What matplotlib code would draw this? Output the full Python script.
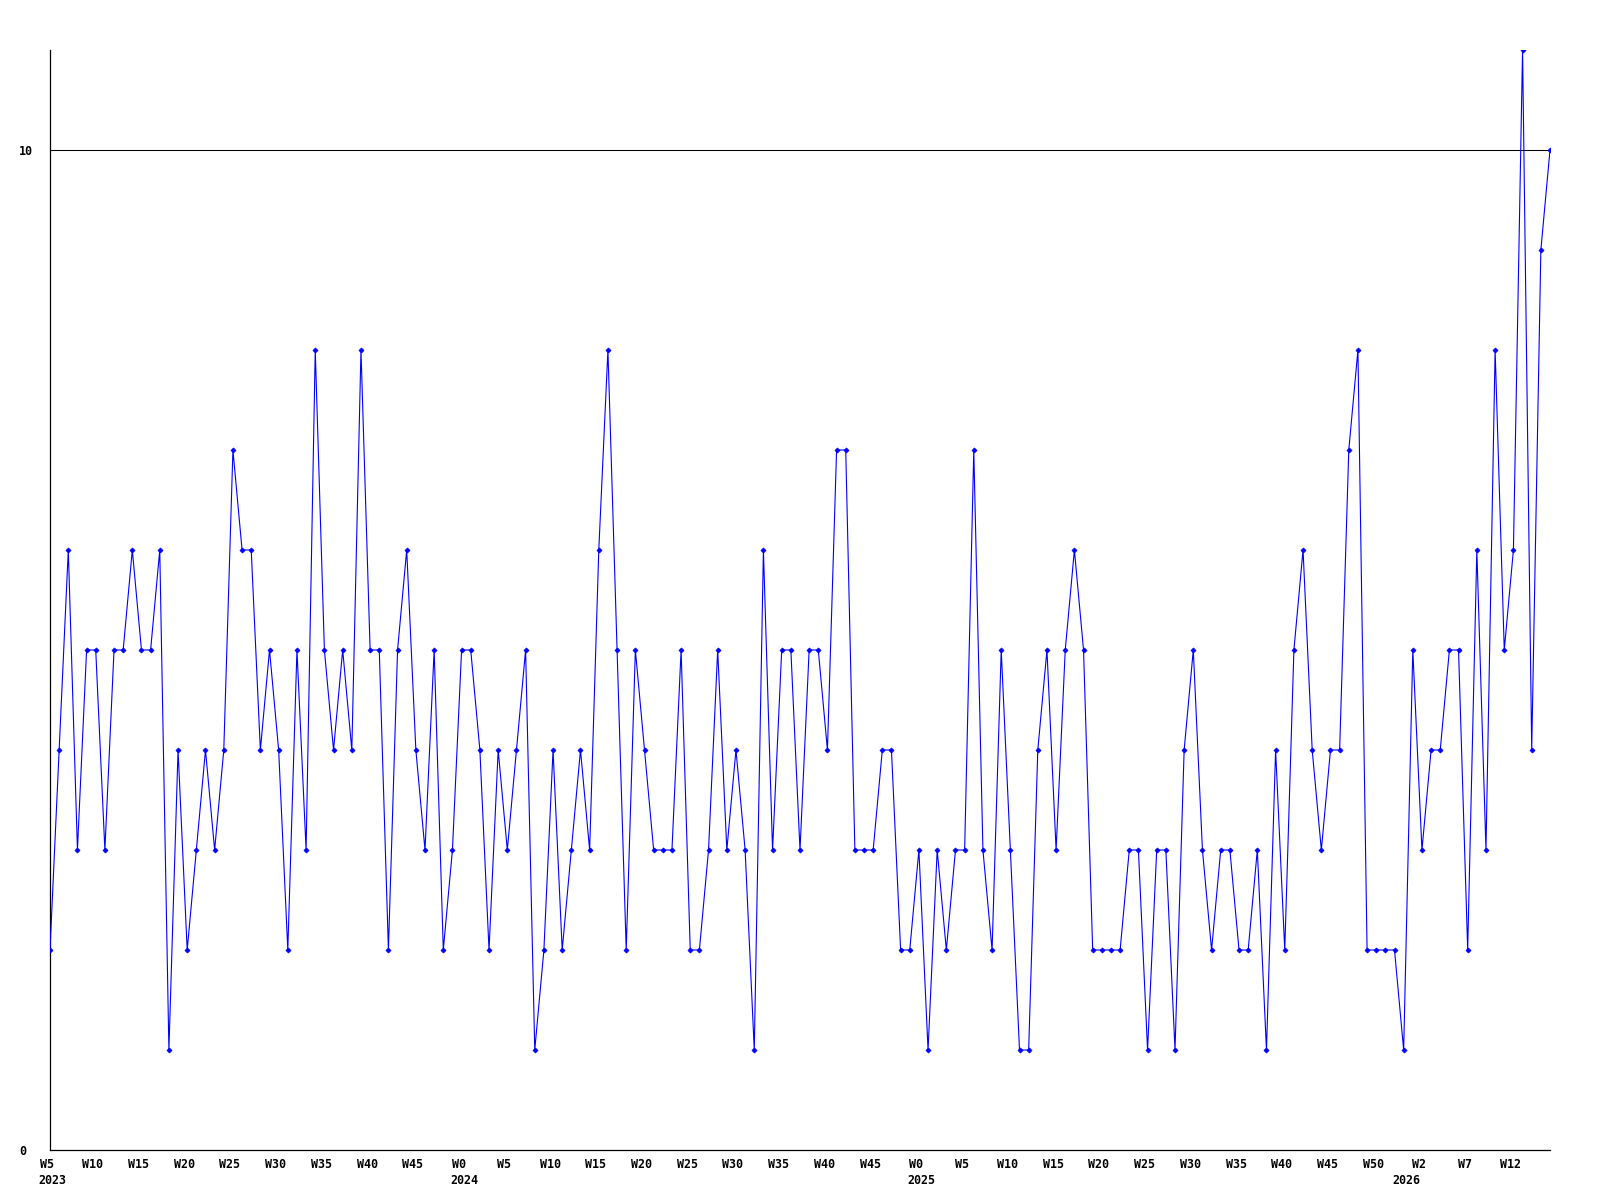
import matplotlib
matplotlib.use("Agg")
import matplotlib.pyplot as plt
from matplotlib.transforms import ScaledTranslation

# ---- data -------------------------------------------------------------
values = [
    2, 4, 6, 3, 5, 5, 3, 5, 5, 6,
    5, 5, 6, 1, 4, 2, 3, 4, 3, 4,
    7, 6, 6, 4, 5, 4, 2, 5, 3, 8,
    5, 4, 5, 4, 8, 5, 5, 2, 5, 6,
    4, 3, 5, 2, 3, 5, 5, 4, 2, 4,
    3, 4, 5, 1, 2, 4, 2, 3, 4, 3,
    6, 8, 5, 2, 5, 4, 3, 3, 3, 5,
    2, 2, 3, 5, 3, 4, 3, 1, 6, 3,
    5, 5, 3, 5, 5, 4, 7, 7, 3, 3,
    3, 4, 4, 2, 2, 3, 1, 3, 2, 3,
    3, 7, 3, 2, 5, 3, 1, 1, 4, 5,
    3, 5, 6, 5, 2, 2, 2, 2, 3, 3,
    1, 3, 3, 1, 4, 5, 3, 2, 3, 3,
    2, 2, 3, 1, 4, 2, 5, 6, 4, 3,
    4, 4, 7, 8, 2, 2, 2, 2, 1, 5,
    3, 4, 4, 5, 5, 2, 6, 3, 8, 5,
    6, 11, 4, 9, 10,
]

week_tick_idx = [0, 5, 10, 15, 20, 25, 30, 35, 40,
                 45, 50, 55, 60, 65, 70, 75, 80, 85, 90,
                 95, 100, 105, 110, 115, 120, 125, 130, 135, 140, 145,
                 150, 155, 160]
week_tick_labels = ["W5", "W10", "W15", "W20", "W25", "W30", "W35", "W40", "W45",
                    "W0", "W5", "W10", "W15", "W20", "W25", "W30", "W35", "W40", "W45",
                    "W0", "W5", "W10", "W15", "W20", "W25", "W30", "W35", "W40", "W45", "W50",
                    "W2", "W7", "W12"]
year_idx = [0, 45, 95, 148]
year_labels = ["2023", "2024", "2025", "2026"]
y_ticks = [0, 10]
y_tick_labels = ["0", "10"]

# ---- figure -----------------------------------------------------------
W, H, DPI = 1600, 1200, 100
fig = plt.figure(figsize=(W / DPI, H / DPI), dpi=DPI, facecolor="white")
ax = fig.add_axes([50 / W, 50 / H, 1500 / W, 1100 / H])
ax.set_facecolor("white")

font = dict(family="DejaVu Sans Mono", weight="bold", size=8.4)

x = list(range(len(values)))
ax.plot(x, values, color="#0000ff", linewidth=0.8, marker="D",
        markersize=2.6, markerfacecolor="#0000ff", markeredgecolor="#0000ff",
        markeredgewidth=0.5, zorder=3)

ax.set_xlim(0, len(values) - 1)
ax.set_ylim(0, 11)

for s in ("top", "right"):
    ax.spines[s].set_visible(False)
for s in ("left", "bottom"):
    ax.spines[s].set_color("black")
    ax.spines[s].set_linewidth(0.9)

ax.set_yticks(y_ticks, y_tick_labels)
ax.set_xticks(week_tick_idx, week_tick_labels)
ax.tick_params(axis="both", length=0)
ax.tick_params(axis="y", pad=22.3)
ax.tick_params(axis="x", pad=6)
for lbl in ax.get_yticklabels():
    lbl.set_horizontalalignment("left")
    lbl.set_fontproperties(font)
shift = ScaledTranslation(-3 / DPI, 0, fig.dpi_scale_trans)
for lbl in ax.get_xticklabels():
    lbl.set_fontproperties(font)
    lbl.set_transform(lbl.get_transform() + shift)

ax.grid(axis="y", color="black", linewidth=0.75, zorder=1)
ax.set_axisbelow(True)

for xi, yl in zip(year_idx, year_labels):
    ax.annotate(yl, xy=(xi + 0.3, 0), xycoords=("data", "axes fraction"),
                xytext=(0, -17.5), textcoords="offset points",
                ha="center", va="top", **font)

fig.savefig("out.png", dpi=DPI, facecolor="white")
